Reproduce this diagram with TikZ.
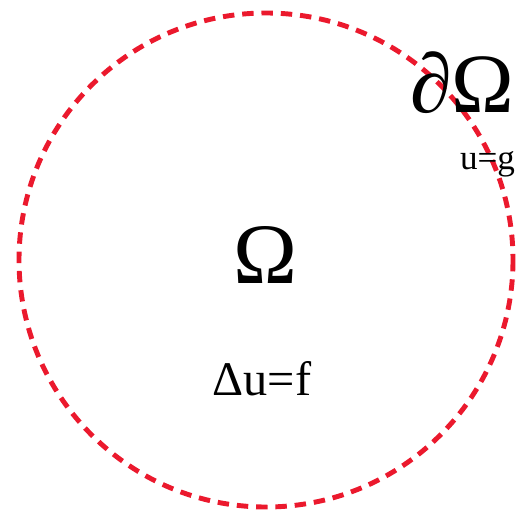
\documentclass[tikz,border=0pt]{standalone}
\usepackage{fontspec}
\setmainfont{Liberation Serif}
\definecolor{bdred}{RGB}{235,25,45}
\begin{document}
\begin{tikzpicture}[x=0.02cm,y=-0.02cm,line cap=butt]
	\tikzset{every node/.style={inner sep=0pt,outer sep=0pt}}
	\tikzset{bdry/.style={bdred,line width=2.8pt,dash pattern=on 6.5pt off 4.5pt}}
	\def \cx{266} \def \cy{260} \def \rr{247}
	\useasboundingbox (0,0) rectangle (517,520);
	\coordinate (O) at (\cx,\cy);
	\draw[bdry] (O) circle (\rr);
	\node[anchor=base,font=\fontsize{49}{49}\selectfont] (omega) at (265,283) {Ω};
	\node[anchor=base,font=\fontsize{27.5}{27.5}\selectfont] (laplace) at (262,395) {Δu=f};
	\node[anchor=base west,font=\fontsize{48}{48}\selectfont] (boundary) at (410,113) {∂Ω};
	\node[anchor=base west,font=\fontsize{20}{20}\selectfont] (bc) at (460,170) {u=g};
\end{tikzpicture}
\end{document}
